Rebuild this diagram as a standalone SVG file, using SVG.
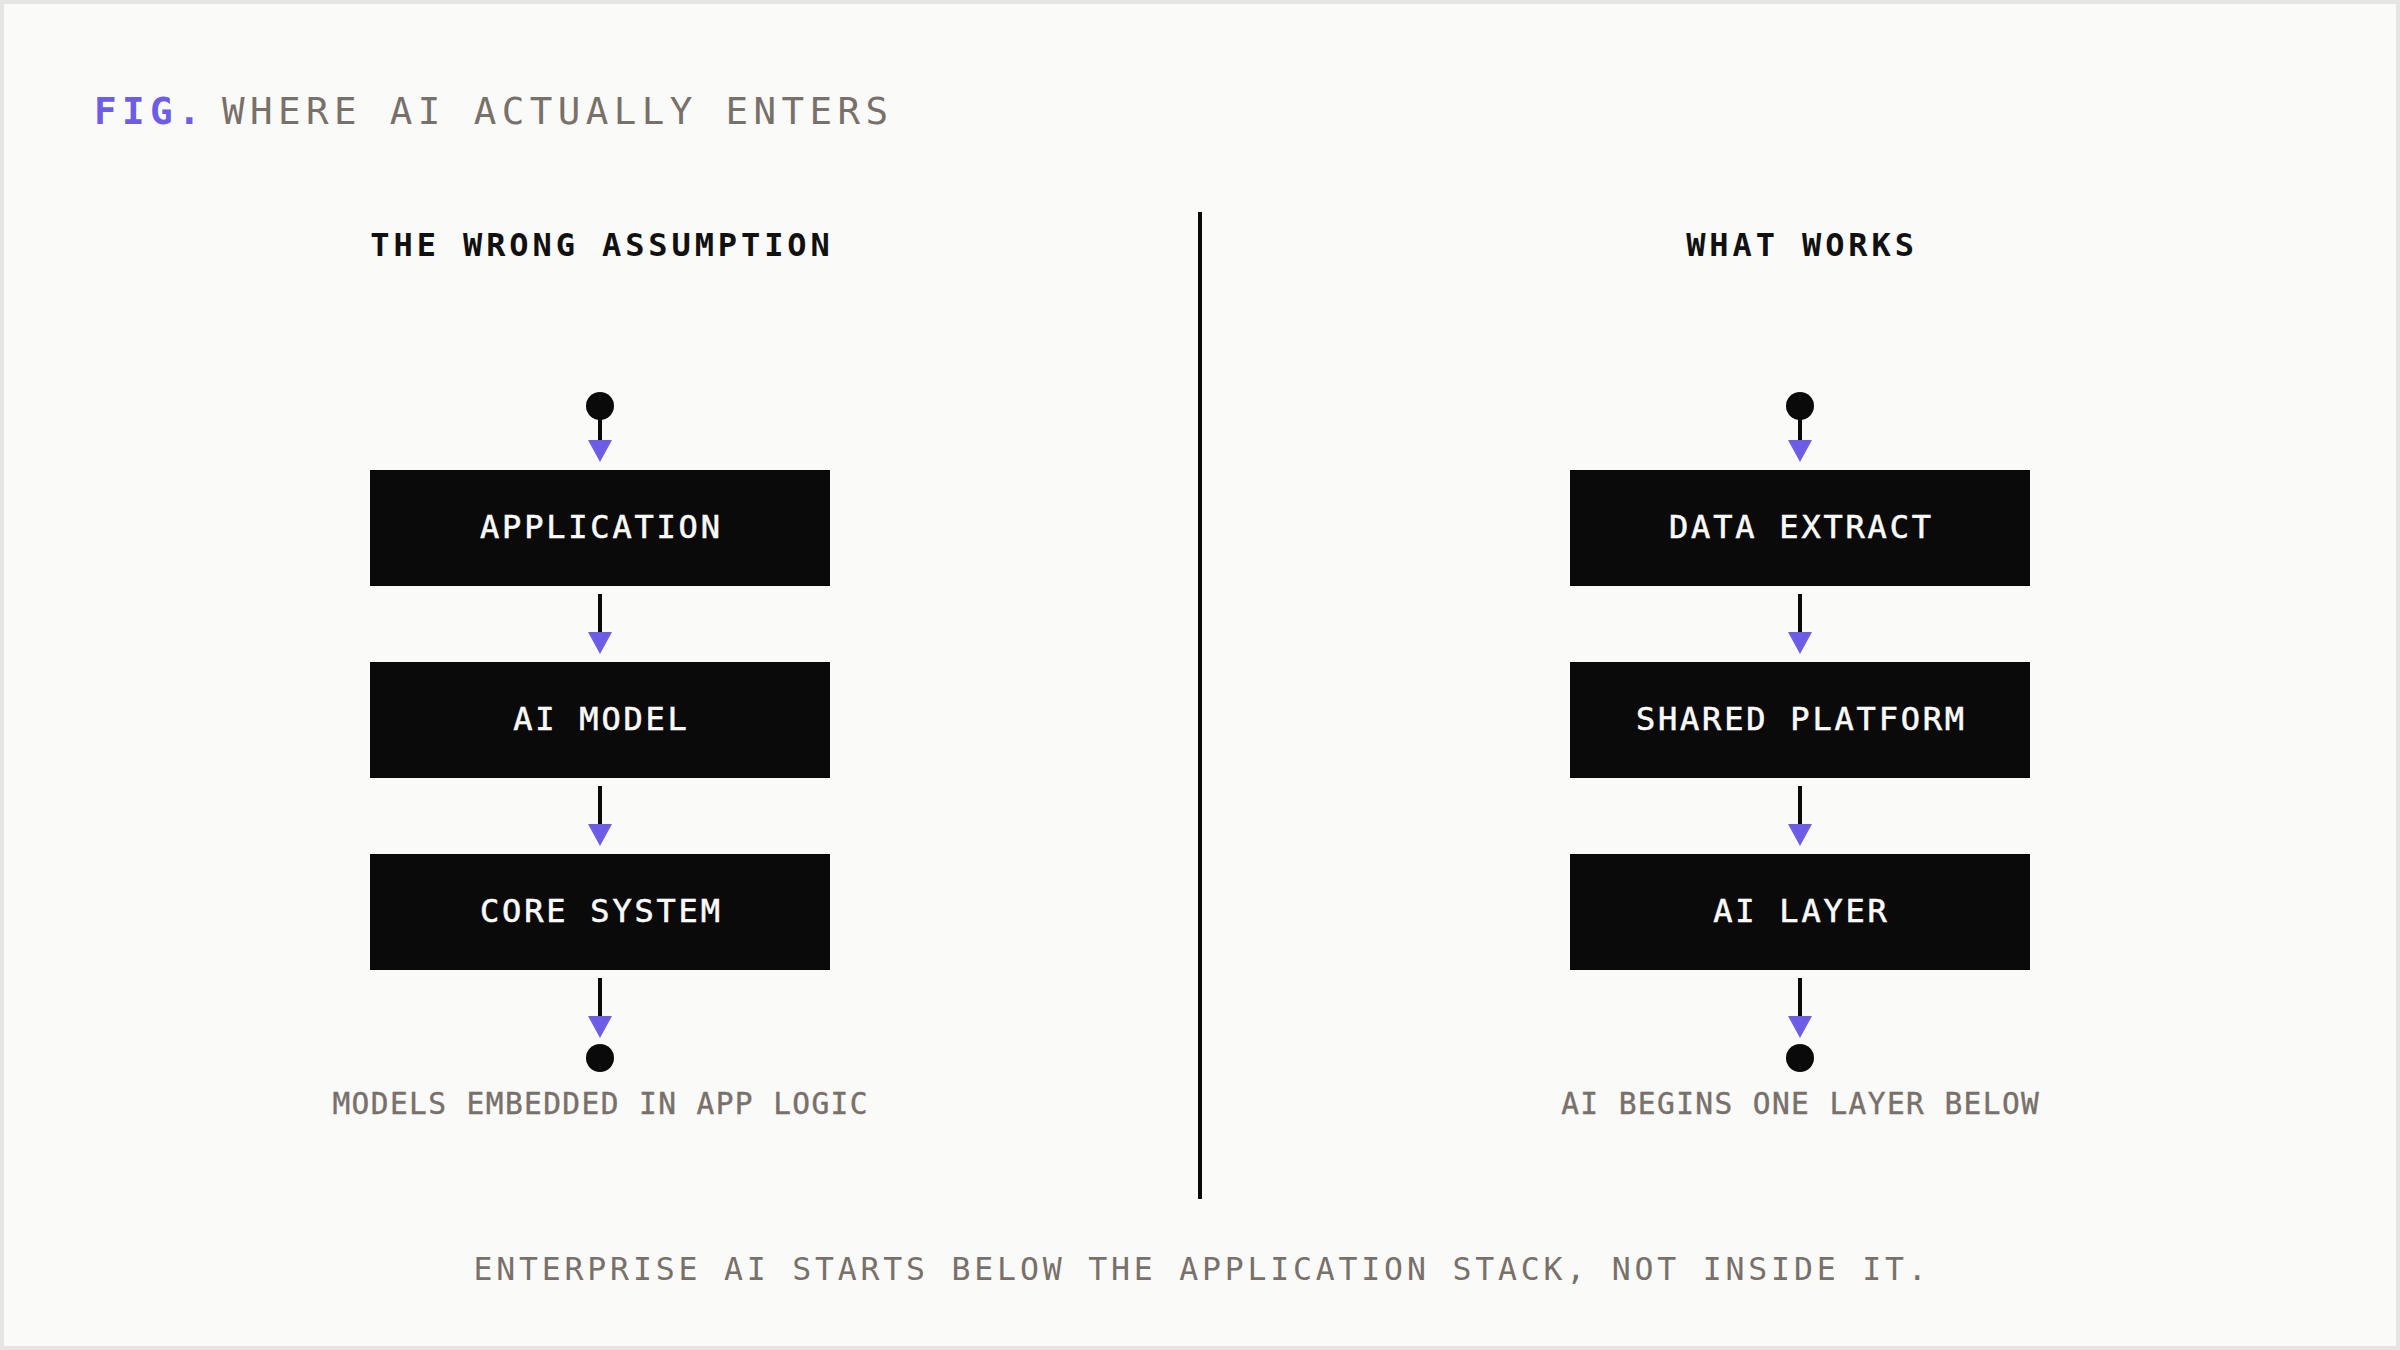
<svg xmlns="http://www.w3.org/2000/svg" width="2400" height="1350" viewBox="0 0 2400 1350">
  <defs>
    <style>
      .t { font-family: "DejaVu Sans Mono", "Liberation Mono", monospace; }
      .title { font-size: 37.5px; letter-spacing: 5.4px; fill: #78706b; }
      .fig { fill: #6c5ce7; font-weight: bold; }
      .head { font-size: 32px; letter-spacing: 3.9px; fill: #111111; font-weight: bold; text-anchor: middle; }
      .lbl { font-size: 32px; letter-spacing: 2.8px; fill: #fafaf8; stroke: #fafaf8; stroke-width: 0.6px; text-anchor: middle; }
      .note { font-size: 29.5px; letter-spacing: 1.4px; fill: #78706b; stroke: #78706b; stroke-width: 0.4px; text-anchor: middle; }
      .cap { font-size: 31.5px; letter-spacing: 3.8px; fill: #78706b; text-anchor: middle; }
      .box { fill: #0a0a0a; }
      .dot { fill: #0a0a0a; }
      .edge { stroke: #0a0a0a; stroke-width: 4; fill: none; marker-end: url(#arr); }
    </style>
    <marker id="arr" markerUnits="userSpaceOnUse" viewBox="0 0 22 24" refX="0" refY="12" markerWidth="22" markerHeight="24" orient="auto">
      <path d="M0,0 L22,12 L0,24 Z" fill="#6c5ce7"/>
    </marker>
  </defs>

  <rect x="0" y="0" width="2400" height="1350" fill="#e6e5e3"/>
  <rect x="4" y="4" width="2392" height="1342" fill="#fafaf8"/>

  <g id="title">
    <text class="t title fig" x="94" y="124">FIG.</text>
    <text class="t title" x="222" y="124">WHERE AI ACTUALLY ENTERS</text>
  </g>

  <g id="headings">
    <text class="t head" x="602" y="256">THE WRONG ASSUMPTION</text>
    <text class="t head" x="1802" y="256">WHAT WORKS</text>
  </g>

  <g id="divider">
    <line x1="1200" y1="212" x2="1200" y2="1199" stroke="#0a0a0a" stroke-width="4"/>
  </g>

  <g id="connectors">
    <line class="edge" x1="600" y1="410" x2="600" y2="440"/>
    <line class="edge" x1="600" y1="594" x2="600" y2="632"/>
    <line class="edge" x1="600" y1="786" x2="600" y2="824"/>
    <line class="edge" x1="600" y1="978" x2="600" y2="1016"/>
    <line class="edge" x1="1800" y1="410" x2="1800" y2="440"/>
    <line class="edge" x1="1800" y1="594" x2="1800" y2="632"/>
    <line class="edge" x1="1800" y1="786" x2="1800" y2="824"/>
    <line class="edge" x1="1800" y1="978" x2="1800" y2="1016"/>
  </g>

  <g id="left-start"><circle class="dot" cx="600" cy="406" r="14"/></g>
  <g id="left-end"><circle class="dot" cx="600" cy="1058" r="14"/></g>
  <g id="right-start"><circle class="dot" cx="1800" cy="406" r="14"/></g>
  <g id="right-end"><circle class="dot" cx="1800" cy="1058" r="14"/></g>

  <g id="node-application">
    <rect class="box" x="370" y="470" width="460" height="116"/>
    <text class="t lbl" x="601.4" y="538">APPLICATION</text>
  </g>
  <g id="node-ai-model">
    <rect class="box" x="370" y="662" width="460" height="116"/>
    <text class="t lbl" x="601.4" y="730">AI MODEL</text>
  </g>
  <g id="node-core-system">
    <rect class="box" x="370" y="854" width="460" height="116"/>
    <text class="t lbl" x="601.4" y="922">CORE SYSTEM</text>
  </g>

  <g id="node-data-extract">
    <rect class="box" x="1570" y="470" width="460" height="116"/>
    <text class="t lbl" x="1801.4" y="538">DATA EXTRACT</text>
  </g>
  <g id="node-shared-platform">
    <rect class="box" x="1570" y="662" width="460" height="116"/>
    <text class="t lbl" x="1801.4" y="730">SHARED PLATFORM</text>
  </g>
  <g id="node-ai-layer">
    <rect class="box" x="1570" y="854" width="460" height="116"/>
    <text class="t lbl" x="1801.4" y="922">AI LAYER</text>
  </g>

  <g id="notes">
    <text class="t note" x="600.7" y="1114">MODELS EMBEDDED IN APP LOGIC</text>
    <text class="t note" x="1800.7" y="1114">AI BEGINS ONE LAYER BELOW</text>
  </g>

  <g id="caption">
    <text class="t cap" x="1202" y="1280">ENTERPRISE AI STARTS BELOW THE APPLICATION STACK, NOT INSIDE IT.</text>
  </g>
</svg>
